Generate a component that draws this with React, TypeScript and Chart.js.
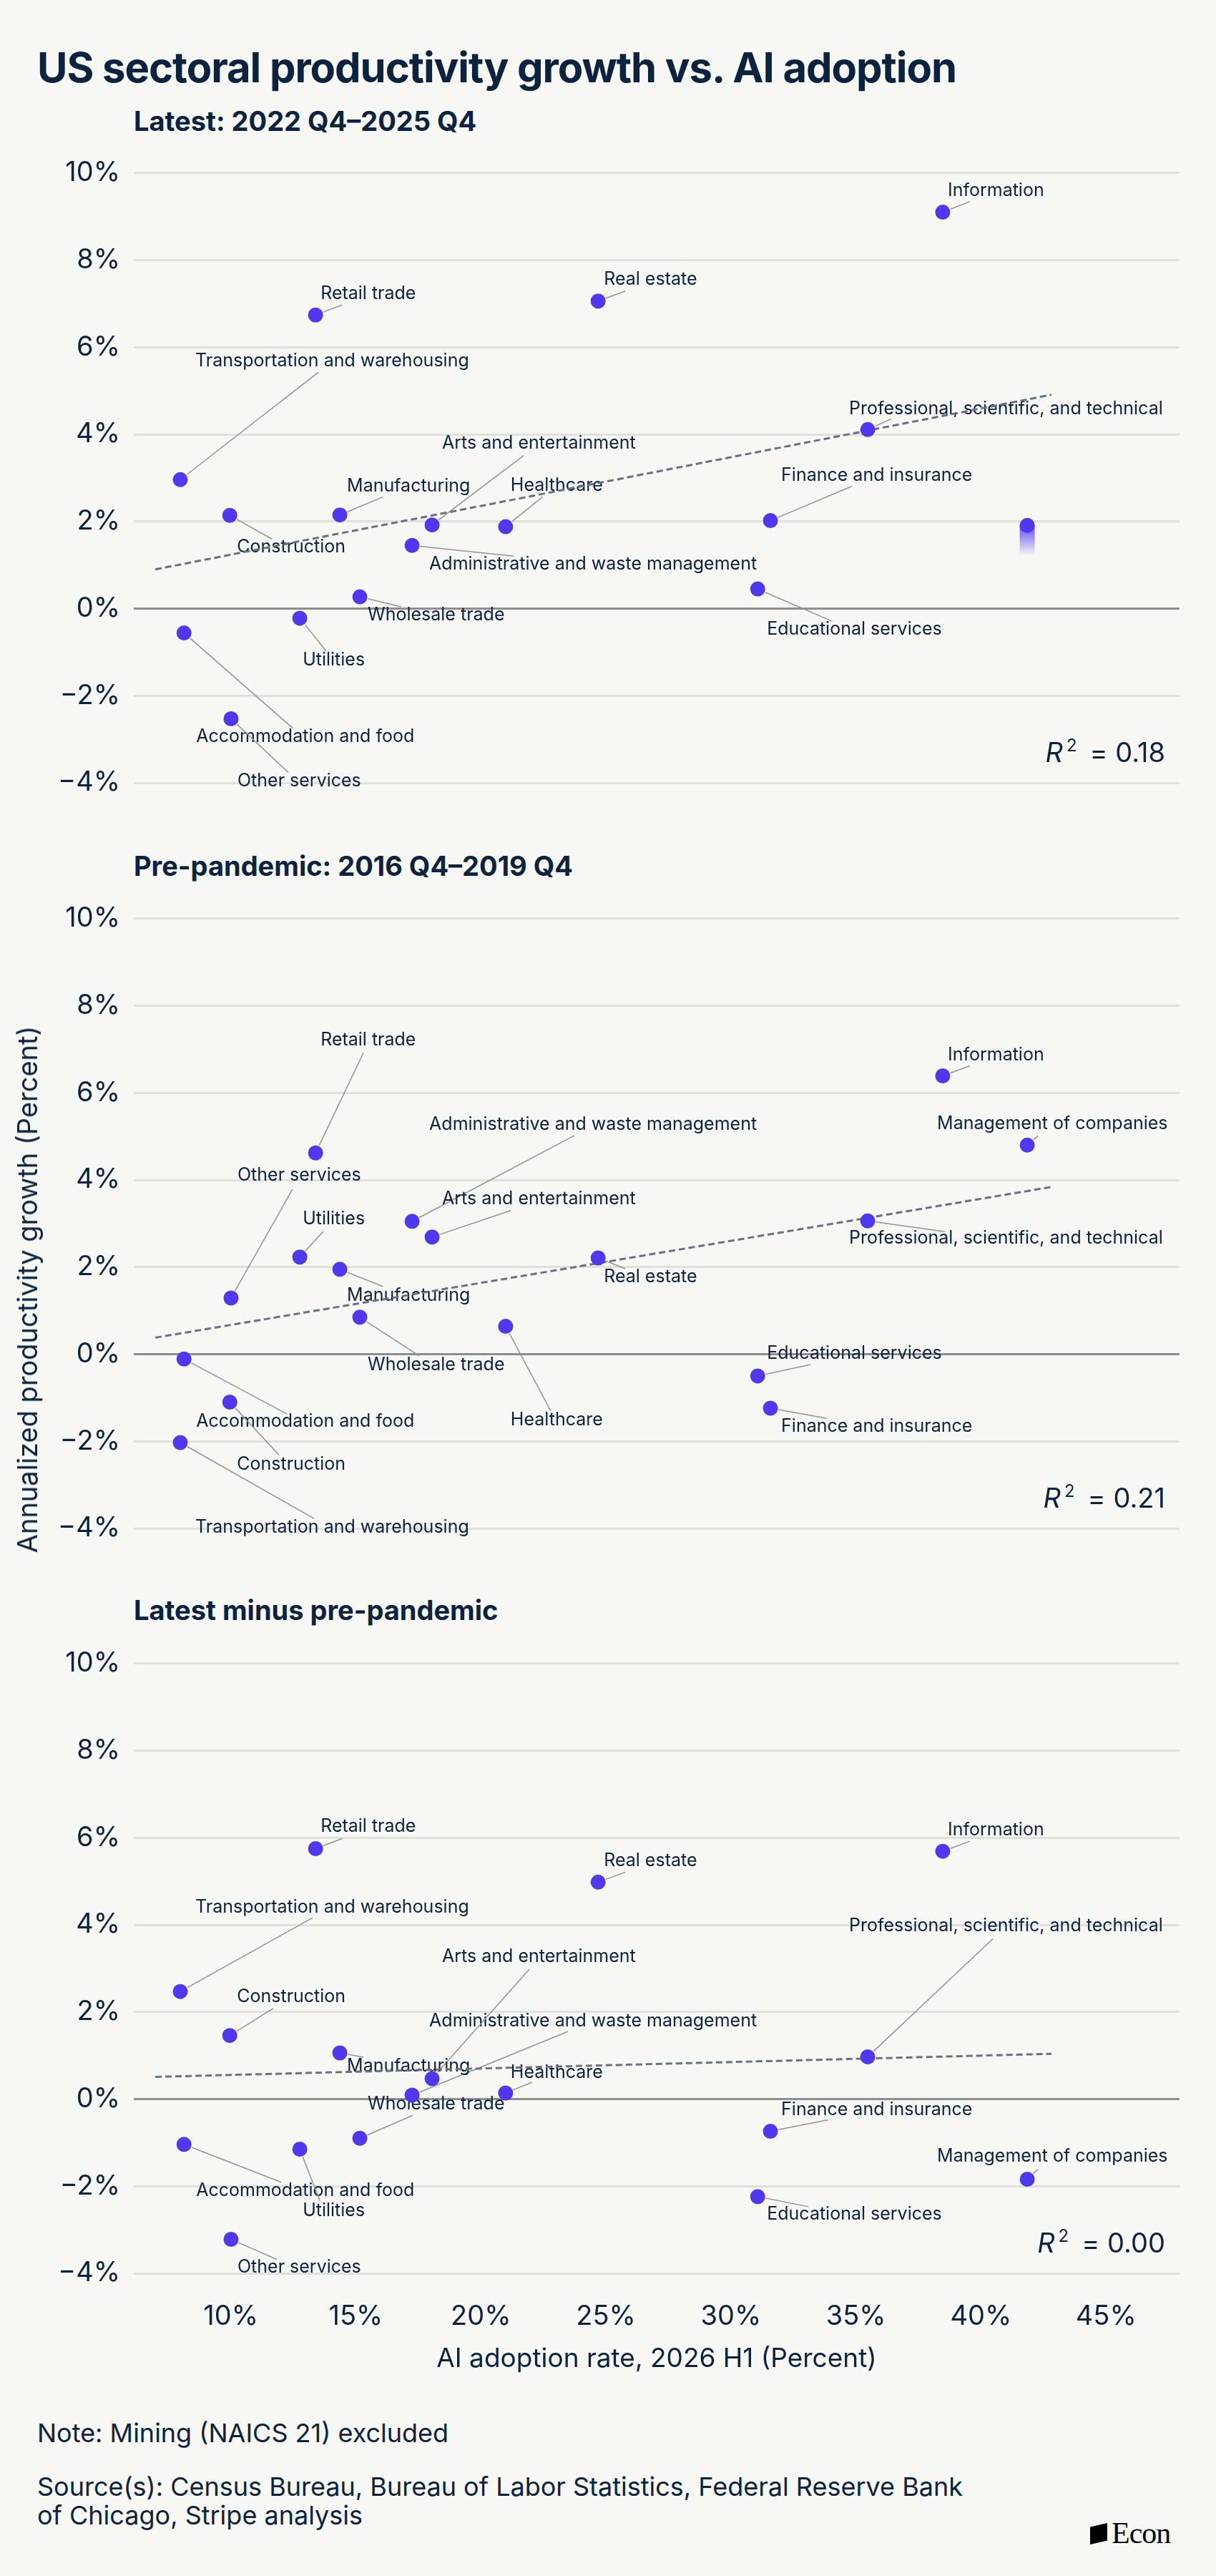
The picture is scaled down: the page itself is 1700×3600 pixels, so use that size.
import React, { useEffect, useRef } from 'react';
import { Chart, registerables } from 'chart.js';

Chart.register(...registerables);

// ---------------- DATA ----------------
const sectors = [
  'Accommodation and food',
  'Administrative and waste management',
  'Arts and entertainment',
  'Construction',
  'Educational services',
  'Finance and insurance',
  'Healthcare',
  'Information',
  'Management of companies',
  'Manufacturing',
  'Other services',
  'Professional, scientific, and technical',
  'Real estate',
  'Retail trade',
  'Transportation and warehousing',
  'Utilities',
  'Wholesale trade',
];

// AI adoption rate, 2026 H1 (percent)
const aiAdoption = [8.13, 17.25, 18.05, 9.96, 31.07, 31.58, 20.99, 38.47, 41.85, 14.36, 10.01, 35.47, 24.69, 13.39, 7.98, 12.76, 15.16];

// Annualized productivity growth (percent)
const latestGrowth = [-0.56, 1.45, 1.92, 2.14, 0.45, 2.02, 1.88, 9.1, 1.91, 2.15, -2.53, 4.11, 7.06, 6.74, 2.96, -0.22, 0.27];
const prePandemicGrowth = [-0.11, 3.05, 2.69, -1.1, -0.5, -1.24, 0.64, 6.39, 4.8, 1.95, 1.29, 3.06, 2.21, 4.62, -2.03, 2.23, 0.85];
const differenceGrowth = [-1.04, 0.09, 0.47, 1.46, -2.24, -0.74, 0.14, 5.69, -1.84, 1.06, -3.22, 0.97, 4.98, 5.75, 2.47, -1.15, -0.9];

// Fitted trend lines (endpoints)
const trendX = [6.98, 42.82];
const latestTrend = [0.9, 4.91];
const prePandemicTrend = [0.38, 3.84];
const differenceTrend = [0.51, 1.04];

const rSquared = ['0.18', '0.21', '0.00'];
const panelTitles = ['Latest: 2022 Q4\u20132025 Q4', 'Pre-pandemic: 2016 Q4\u20132019 Q4', 'Latest minus pre-pandemic'];

const xTickValues = [10, 15, 20, 25, 30, 35, 40, 45];
const yTickValues = [-4, -2, 0, 2, 4, 6, 8, 10];

// ---------------- LABEL PLACEMENT (pixel offsets from point: text dx, dy, leader dx, dy) ----------------
type Off = [number, number, number, number] | null;
const latestLabelOffsets: Off[] = [
  [17, 145, 152, 133],
  [24, 26, 142, 15],
  [14, -114, 128, -97],
  [10, 44, 59, 33],
  [13, 56, 104, 45],
  [15, -63, 114, -48],
  [7, -58, 52, -42],
  [7, -30, 38, -15],
  null,
  [10, -40, 60, -25],
  [9, 87, 80, 75],
  [-26, -29, 33, -15],
  [8, -30, 38, -14],
  [7, -30, 37, -14],
  [21, -166, 193, -150],
  [4, 59, 37, 46],
  [11, 25, 58, 14],
];
const preLabelOffsets: Off[] = [
  [17, 87, 144, 77],
  [24, -135, 227, -120],
  [14, -53, 110, -37],
  [10, 87, 69, 74],
  [13, -31, 74, -16],
  [15, 25, 78, 14],
  [7, 131, 63, 118],
  [7, -29, 38, -14],
  [-126, -30, 15, -13],
  [10, 37, 60, 24],
  [9, -172, 86, -152],
  [-26, 24, 108, 15],
  [8, 26, 38, 15],
  [7, -158, 67, -140],
  [21, 118, 187, 106],
  [4, -53, 33, -36],
  [11, 67, 83, 54],
];
const diffLabelOffsets: Off[] = [
  [17, 65, 136, 53],
  [24, -104, 218, -89],
  [14, -170, 136, -153],
  [10, -54, 61, -38],
  [13, 25, 71, 14],
  [15, -30, 81, -16],
  [7, -29, 37, -15],
  [7, -30, 38, -14],
  [-126, -32, 15, -14],
  [10, 18, 33, 6],
  [9, 39, 64, 28],
  [-26, -183, 175, -165],
  [8, -30, 38, -14],
  [7, -31, 37, -14],
  [21, -118, 185, -103],
  [4, 86, 28, 72],
  [11, -48, 74, -32],
];

// ---------------- STYLE ----------------
const FONT = 'Inter, "Noto Sans", sans-serif';
const TEXT = '#0c2340';
const BG = '#f7f7f4';
const POINT = '#5038f0';
const GRID = '#e0e0dc';
const ZERO = '#8e8e8e';
const TREND = '#6b7180';
const LEADER = '#8f949b';
const POINT_R = 10.5;

type PanelProps = {
  top: number;
  height: number;
  values: number[];
  trend: number[];
  offsets: Off[];
  r2: string;
  showX: boolean;
  tailIndex: number;
};

function Panel({ top, height, values, trend, offsets, r2, showX, tailIndex }: PanelProps) {
  const ref = useRef<HTMLCanvasElement>(null);
  useEffect(() => {
    const labelPlugin = {
      id: 'sectorLabels',
      beforeDatasetsDraw(chart: any) {
        const ctx = chart.ctx;
        const meta = chart.getDatasetMeta(0);
        ctx.save();
        if (tailIndex >= 0) {
          const p = meta.data[tailIndex];
          const g = ctx.createLinearGradient(0, p.y, 0, p.y + 42);
          g.addColorStop(0, 'rgba(80,56,240,0.9)');
          g.addColorStop(1, 'rgba(80,56,240,0)');
          ctx.fillStyle = g;
          ctx.fillRect(p.x - POINT_R, p.y, POINT_R * 2, 42);
        }
        ctx.font = `25px ${FONT}`;
        ctx.textBaseline = 'middle';
        ctx.textAlign = 'left';
        offsets.forEach((o, i) => {
          if (!o) return;
          const p = meta.data[i];
          const [tdx, tdy, ldx, ldy] = o;
          const len = Math.hypot(ldx, ldy);
          const sx = p.x + (ldx / len) * (POINT_R + 1);
          const sy = p.y + (ldy / len) * (POINT_R + 1);
          ctx.strokeStyle = LEADER;
          ctx.lineWidth = 1.5;
          ctx.beginPath();
          ctx.moveTo(sx, sy);
          ctx.lineTo(p.x + ldx, p.y + ldy);
          ctx.stroke();
          ctx.fillStyle = TEXT;
          ctx.fillText(sectors[i], p.x + tdx, p.y + tdy);
        });
        ctx.restore();
      },
      afterDraw(chart: any) {
        const ctx = chart.ctx;
        const { right, bottom } = chart.chartArea;
        ctx.save();
        ctx.fillStyle = TEXT;
        ctx.textBaseline = 'alphabetic';
        ctx.textAlign = 'left';
        const rest = `= ${r2}`;
        ctx.font = `38px ${FONT}`;
        const wRest = ctx.measureText(rest).width;
        ctx.font = `24px ${FONT}`;
        const wSup = ctx.measureText('2').width;
        ctx.font = `italic 38px ${FONT}`;
        const wR = ctx.measureText('R').width;
        const gap = 5;
        const gap2 = 18;
        const xEnd = right - 20;
        const base = bottom - 29;
        let x = xEnd - wRest - wSup - wR - gap - gap2;
        ctx.fillText('R', x, base);
        x += wR + gap;
        ctx.font = `24px ${FONT}`;
        ctx.fillText('2', x, base - 15);
        x += wSup + gap2;
        ctx.font = `38px ${FONT}`;
        ctx.fillText(rest, x, base);
        ctx.restore();
      },
    };

    const chart = new Chart(ref.current as HTMLCanvasElement, {
      type: 'scatter',
      data: {
        datasets: [
          {
            type: 'scatter',
            data: aiAdoption.map((x, i) => ({ x, y: values[i] })),
            backgroundColor: POINT,
            borderWidth: 0,
            pointRadius: POINT_R,
            pointHoverRadius: POINT_R,
            order: 0,
          } as any,
          {
            type: 'line',
            data: trendX.map((x, i) => ({ x, y: trend[i] })),
            borderColor: TREND,
            borderWidth: 3,
            borderDash: [9, 5],
            pointRadius: 0,
            fill: false,
            order: 1,
          } as any,
        ],
      },
      options: {
        responsive: false,
        animation: false,
        devicePixelRatio: 1,
        layout: { padding: { top: 37, right: 51, left: 0, bottom: showX ? 10 : 56 } },
        plugins: { legend: { display: false }, tooltip: { enabled: false } },
        scales: {
          x: {
            type: 'linear',
            min: 6.12,
            max: 47.94,
            display: showX,
            grid: { display: false },
            border: { display: false },
            afterBuildTicks: (s: any) => {
              s.ticks = xTickValues.map((v) => ({ value: v }));
            },
            afterFit: (s: any) => {
              s.height = showX ? 142 : 0;
            },
            ticks: {
              padding: 30,
              color: TEXT,
              font: { family: FONT, size: 38 },
              maxRotation: 0,
              callback: (v: any) => `${v}%`,
            },
            title: {
              display: true,
              text: 'AI adoption rate, 2026 H1 (Percent)',
              color: TEXT,
              font: { family: FONT, size: 37 },
              padding: { top: 0, bottom: 0 },
            },
          },
          y: {
            type: 'linear',
            min: -4,
            max: 10,
            afterBuildTicks: (s: any) => {
              s.ticks = yTickValues.map((v) => ({ value: v }));
            },
            afterFit: (s: any) => {
              s.width = 187;
            },
            border: { display: false },
            grid: {
              drawTicks: false,
              lineWidth: 3,
              color: (c: any) => (c.tick && c.tick.value === 0 ? ZERO : GRID),
            },
            ticks: {
              padding: 19,
              color: TEXT,
              font: { family: FONT, size: 38 },
              callback: (v: any) => `${v < 0 ? '\u2212' + Math.abs(v) : v}%`,
            },
          },
        },
      },
      plugins: [labelPlugin],
    } as any);
    return () => chart.destroy();
  }, []);
  return (
    <canvas
      ref={ref}
      width={1700}
      height={height}
      style={{ position: 'absolute', left: 0, top, width: 1700, height }}
    />
  );
}

const subtitleStyle = (top: number): React.CSSProperties => ({
  position: 'absolute',
  left: 187,
  top,
  fontFamily: FONT,
  fontWeight: 700,
  fontSize: 38,
  lineHeight: '38px',
  color: TEXT,
  whiteSpace: 'nowrap',
});

export default function App() {
  return (
    <div
      style={{
        position: 'absolute',
        left: 0,
        top: 0,
        width: 1700,
        height: 3600,
        background: BG,
        overflow: 'hidden',
        fontFamily: FONT,
        color: TEXT,
      }}
    >
      <div
        style={{
          position: 'absolute',
          left: 52,
          top: 65,
          fontSize: 58,
          lineHeight: '58px',
          fontWeight: 700,
          letterSpacing: '-1.05px',
          whiteSpace: 'nowrap',
        }}
      >
        US sectoral productivity growth vs. AI adoption
      </div>
      <div style={subtitleStyle(150)}>{panelTitles[0]}</div>
      <div style={subtitleStyle(1191)}>{panelTitles[1]}</div>
      <div style={subtitleStyle(2231)}>{panelTitles[2]}</div>

      <Panel top={200} height={950} values={latestGrowth} trend={latestTrend} offsets={latestLabelOffsets} r2={rSquared[0]} showX={false} tailIndex={8} />
      <Panel top={1242} height={950} values={prePandemicGrowth} trend={prePandemicTrend} offsets={preLabelOffsets} r2={rSquared[1]} showX={false} tailIndex={-1} />
      <Panel top={2283} height={1046} values={differenceGrowth} trend={differenceTrend} offsets={diffLabelOffsets} r2={rSquared[2]} showX={true} tailIndex={-1} />

      <div
        style={{
          position: 'absolute',
          left: 38,
          top: 1802,
          transform: 'translate(-50%, -50%) rotate(-90deg)',
          fontSize: 38,
          lineHeight: '38px',
          whiteSpace: 'nowrap',
        }}
      >
        Annualized productivity growth (Percent)
      </div>

      <div style={{ position: 'absolute', left: 52, top: 3382, fontSize: 36, lineHeight: '36px', whiteSpace: 'nowrap' }}>
        Note: Mining (NAICS 21) excluded
      </div>
      <div style={{ position: 'absolute', left: 52, top: 3455, fontSize: 36, lineHeight: '40px', width: 1320 }}>
        Source(s): Census Bureau, Bureau of Labor Statistics, Federal Reserve Bank of Chicago, Stripe analysis
      </div>

      <div style={{ position: 'absolute', left: 1524, top: 3522, height: 36, display: 'flex', alignItems: 'flex-end' }}>
        <div
          style={{
            width: 24,
            height: 30,
            background: '#000',
            clipPath: 'polygon(0 18%, 100% 0, 100% 82%, 0 100%)',
            marginRight: 6,
            marginBottom: 2,
          }}
        />
        <div style={{ fontFamily: '"Liberation Serif", "DejaVu Serif", serif', fontSize: 42, lineHeight: '36px', color: '#000', letterSpacing: '-1px' }}>
          Econ
        </div>
      </div>
    </div>
  );
}
